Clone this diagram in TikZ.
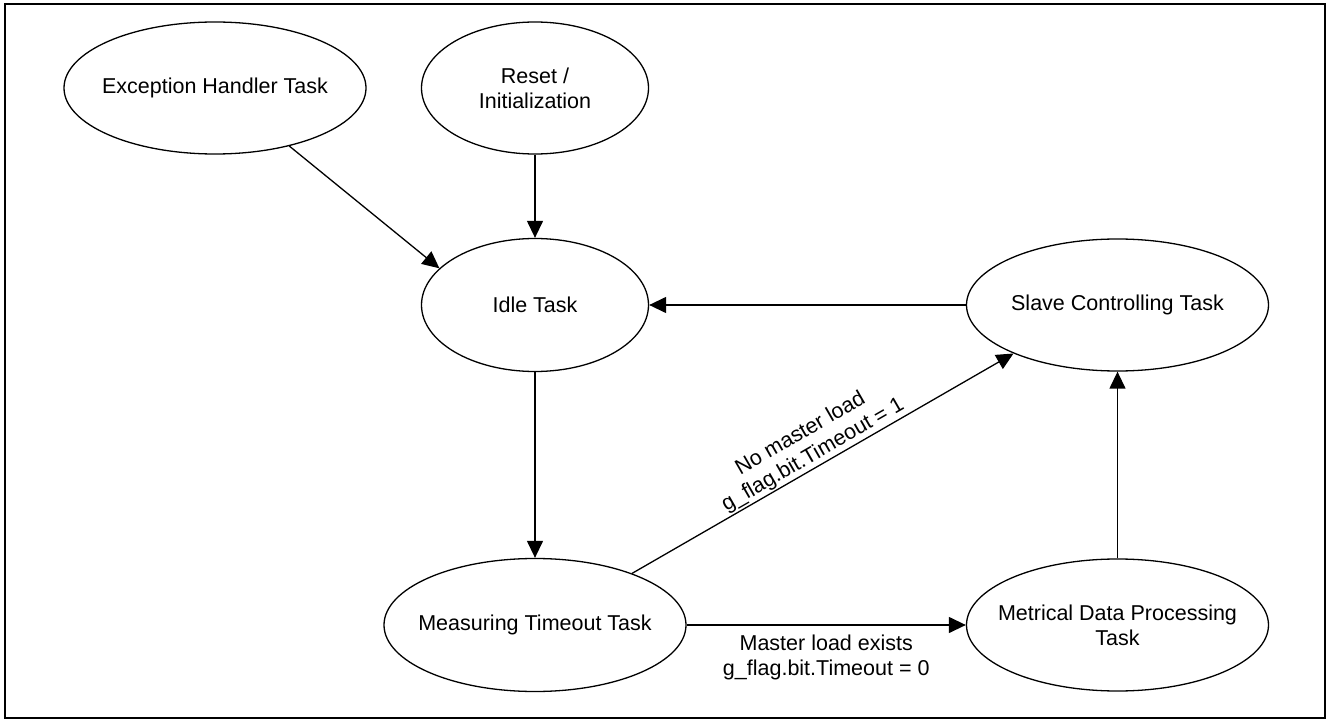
\documentclass[tikz,border=0pt]{standalone}
\usepackage{fontspec}
\setmainfont{Liberation Sans}
\usetikzlibrary{shapes.geometric,arrows.meta}

\begin{document}
\begin{tikzpicture}[x=1pt,y=-1pt,
  every node/.style={font=\fontsize{21.5}{25}\selectfont},
  taskbox/.style={ellipse, draw, line width=1.3pt, inner sep=0pt,
    minimum width=302pt, minimum height=132pt},
  tasktext/.style={align=center, inner sep=0pt},
  flow/.style={line width=1.3pt, -{Triangle[length=17pt,width=16pt]}},
  cond/.style={align=center, inner sep=0pt}
]
\useasboundingbox (0,0) rectangle (1326,719);
\draw[line width=2pt] (5,4) rectangle (1325,718);

% states
\node[taskbox] (exc) at (215,88) {};
\node[tasktext] (exct) at (exc) {Exception Handler Task};
\node[taskbox, minimum width=227pt] (reset) at (535,88) {};
\node[tasktext] (resett) at (reset) {Reset /\\Initialization};
\node[taskbox, minimum width=227pt, minimum height=133pt] (idle) at (535,305) {};
\node[tasktext] (idlet) at (idle) {Idle Task};
\node[taskbox] (slave) at (1117.5,305) {};
\node[tasktext] (slavet) at (slave) {Slave Controlling Task};
\node[taskbox, minimum height=133pt] (meas) at (535,625) {};
\node[tasktext] (meast) at (meas) {Measuring Timeout Task};
\node[taskbox] (met) at (1117.5,625) {};
\node[tasktext] (mett) at (met) {Metrical Data Processing\\Task};

% transitions
\draw[flow] (exc.-38.5) -- (idle.159.4);
\draw[flow] (reset.south) -- (idle.north);
\draw[flow] (slave.west) -- (idle.east);
\draw[flow] (idle.south) -- (meas.north);
\draw[flow] (meas.28.5) -- (slave.205.4)
  node[cond, pos=0.49, sloped, above=1pt] (nomaster)
  {No master load\\g\_flag.bit.Timeout = 1};
\draw[flow] (meas.east) -- (met.west)
  node[cond, midway, anchor=north, yshift=-9pt] (master)
  {Master load exists\\g\_flag.bit.Timeout = 0};
\draw[flow] (met.north) -- (slave.south);
\end{tikzpicture}
\end{document}
